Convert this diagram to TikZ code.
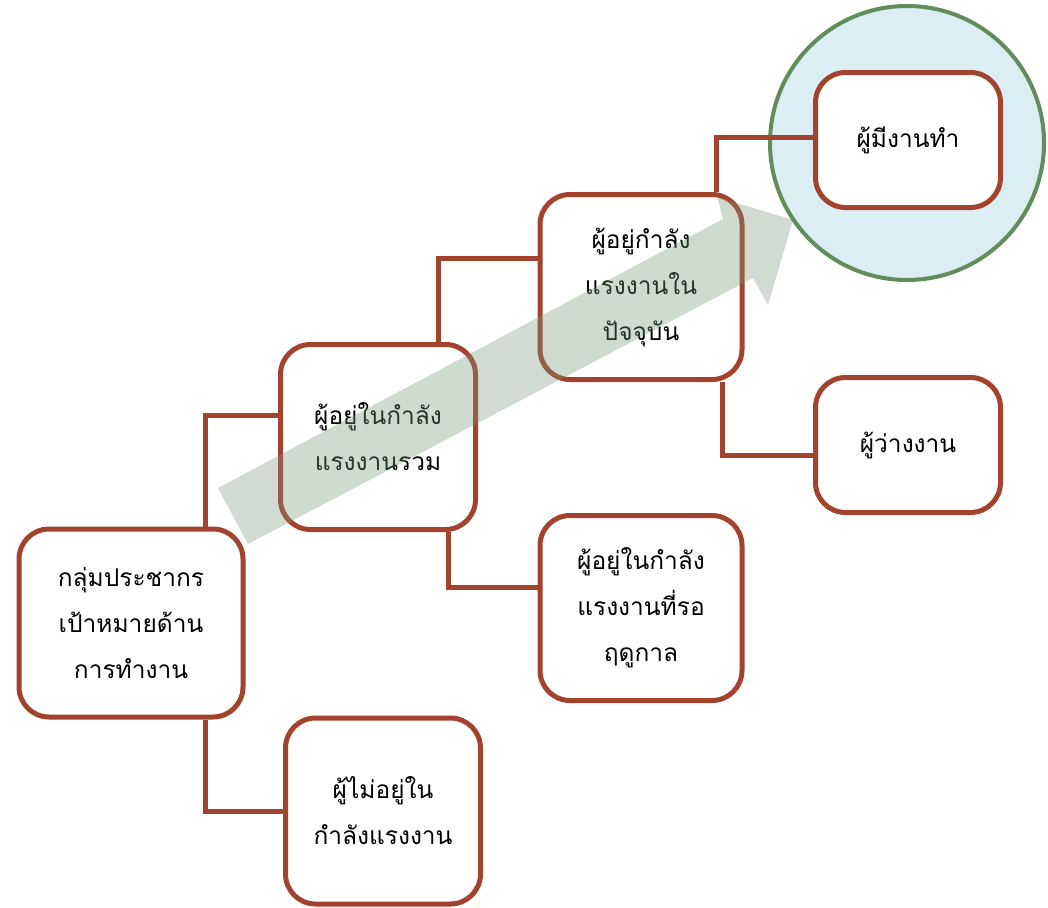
\documentclass[tikz,border=0pt]{standalone}
\usepackage{fontspec}
\newfontfamily\thaifont[Script=Thai]{Loma}
\definecolor{boxred}{RGB}{164,67,45}
\definecolor{ringgreen}{RGB}{98,140,92}
\definecolor{ringfill}{RGB}{219,238,243}
\definecolor{arrowgray}{RGB}{119,150,119}
\tikzset{
  stage/.style={draw=boxred,line width=5pt,fill=white,rounded corners=30pt,
    align=center,inner sep=0pt,font=\thaifont\fontsize{24.5}{46}\selectfont},
  link/.style={draw=boxred,line width=5pt}
}
\begin{document}
\begin{tikzpicture}[x=1pt,y=-1pt]
  \useasboundingbox (0,0) rectangle (1048,907);

  \node[stage,minimum width=224pt,minimum height=188pt] (target) at (131,623) {กลุ่มประชากร\\เป้าหมายด้าน\\การทำงาน};
  \node[stage,minimum width=195pt,minimum height=185pt] (total) at (378,437) {ผู้อยู่ในกำลัง\\แรงงานรวม};
  \node[stage,minimum width=195pt,minimum height=186pt] (outside) at (383,811) {ผู้ไม่อยู่ใน\\กำลังแรงงาน};
  \node[stage,minimum width=202pt,minimum height=185pt] (seasonal) at (641,608) {ผู้อยู่ในกำลัง\\แรงงานที่รอ\\ฤดูกาล};
  \node[stage,minimum width=202pt,minimum height=185pt] (current) at (641,287) {ผู้อยู่กำลัง\\แรงงานใน\\ปัจจุบัน};
  \node[stage,minimum width=185pt,minimum height=135pt] (unemployed) at (908,445) {ผู้ว่างงาน};

  \draw[link] ([xshift=74pt]target.north) |- ([yshift=22pt]total.west);
  \draw[link] ([xshift=74pt]target.south) |- (outside.west);
  \draw[link] ([xshift=60pt]total.north) |- ([yshift=29pt]current.west);
  \draw[link] ([xshift=70pt]total.south) |- ([yshift=21pt]seasonal.west);
  \draw[link] ([xshift=81pt]current.south) |- ([yshift=-10pt]unemployed.west);

  % big arrow
  \fill[arrowgray,opacity=0.34] (218,488) -- (723,219) -- (717,197) -- (793,220)
    -- (768,305) -- (753,278) -- (248,544) -- cycle;

  \draw[ringgreen,fill=ringfill,line width=4pt] (907,143) circle (137pt);
  \node[stage,minimum width=185pt,minimum height=135pt] (employed) at (908,140) {ผู้มีงานทำ};
  \draw[link] ([xshift=75pt]current.north) |- ([yshift=3pt]employed.west);
\end{tikzpicture}
\end{document}
